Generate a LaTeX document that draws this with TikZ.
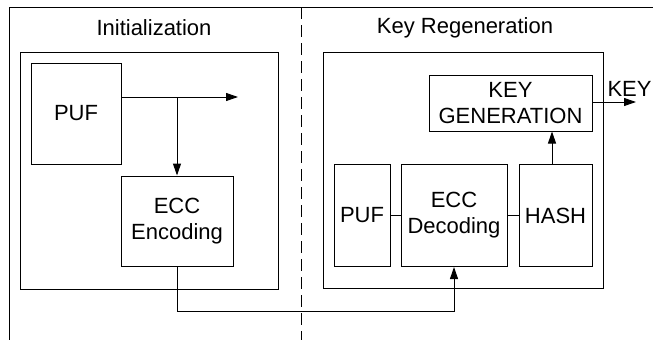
\documentclass[tikz,border=0pt]{standalone}
\usepackage{fontspec}
\setmainfont{Liberation Sans}
\usetikzlibrary{arrows.meta}
\begin{document}
\begin{tikzpicture}[x=1pt,y=-1pt,
  line width=1pt,
  every node/.style={font=\fontsize{22}{26}\selectfont, inner sep=0pt, align=center},
  blk/.style={draw, line width=1pt},
  frame/.style={draw, line width=1pt},
  arr/.style={-{Triangle[length=12pt,width=8pt]}},
  sep/.style={dash pattern=on 12pt off 6pt, line width=1pt}
]
\useasboundingbox (0,0) rectangle (653,340);

% outer frame (top and left edges) and the dividing line
\draw (653,7) -- (9,7) -- (9,340);
\draw[sep] (301,7) -- (301,340);

% section titles
\node (tinit) at (154,28) {Initialization};
\node (treg) at (465,28) {Key Regeneration};

% enclosing boxes
\node[frame, minimum width=258pt, minimum height=237pt] (initbox) at (149,170.5) {};
\node[frame, minimum width=280pt, minimum height=236pt] (regbox) at (463,170) {};

% initialization blocks
\node[blk, minimum width=90pt, minimum height=101pt] (puf1) at (76,113.5) {PUF};
\node[blk, minimum width=112pt, minimum height=90pt] (enc) at (177,221) {ECC\\Encoding};

% key regeneration blocks
\node[blk, minimum width=163pt, minimum height=56pt] (keygen) at (510.5,103) {KEY\\GENERATION};
\node[blk, minimum width=56pt, minimum height=102pt] (puf2) at (362,215.5) {PUF};
\node[blk, minimum width=106pt, minimum height=102pt] (dec) at (454,215.5) {ECC\\Decoding};
\node[blk, minimum width=73pt, minimum height=102pt] (hash) at (555.5,215.5) {HASH};

% free ends and corners
\coordinate (pufout) at (238,97);
\coordinate (branch) at (177,97);
\coordinate (keyout) at (636,102);
\coordinate (low) at (177,311);
\node[anchor=south west, inner sep=0pt] (keylbl) at (607,97) {KEY};

% connectors
\draw[arr] (puf1.east |- pufout) -- (pufout);
\draw[arr] (branch) -- (enc.north);
\draw[arr] (enc.south) -- (low) -- (low -| dec.south) -- (dec.south);
\draw (puf2.east) -- (dec.west);
\draw (dec.east) -- (hash.east -| hash.west);
\draw[arr] (hash.north -| 552,0) -- (keygen.south -| 552,0);
\draw[arr] (keygen.east |- keyout) -- (keyout);
\end{tikzpicture}
\end{document}
